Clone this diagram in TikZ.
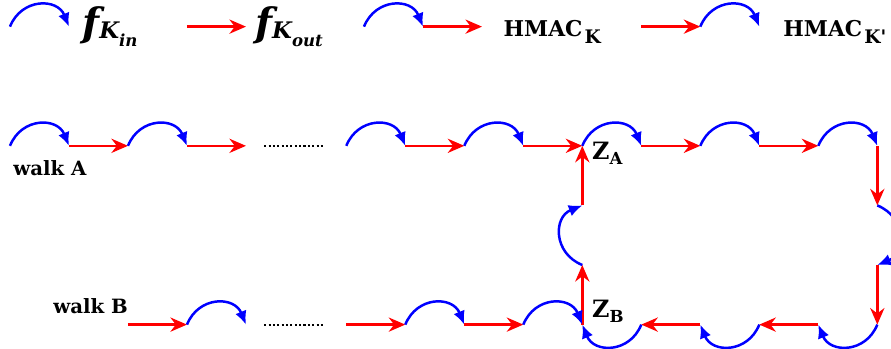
\documentclass[tikz,border=0pt]{standalone}
\usepackage{fontspec}
\setmainfont{DejaVu Serif}
\usetikzlibrary{arrows.meta}
\tikzset{
  kin/.style={blue, line width=1.2pt, -{Latex[length=2.3mm,width=2mm]}, bend left=68, looseness=1.35},
  kout/.style={red, line width=1.2pt, -{Stealth[length=2.8mm,width=2.4mm]}},
  kdots/.style={line width=1pt, dash pattern=on 1pt off 1.1pt},
  klabel/.style={font=\bfseries, anchor=base west, inner sep=0pt}
}
\newcommand{\fk}[1]{{\fontsize{19}{19}\selectfont\itshape f}\raisebox{-1pt}{\fontsize{11}{12}\selectfont\itshape K}\raisebox{-4.5pt}{\fontsize{8}{9}\selectfont\itshape #1}}
\newcommand{\hmac}[1]{{\fontsize{10.5}{12}\selectfont HMAC}\kern1pt\raisebox{-3.4pt}{\fontsize{9}{10}\selectfont #1}}
\newcommand{\zpt}[1]{{\fontsize{11.5}{12}\selectfont Z}\raisebox{-2.4pt}{\fontsize{8}{8}\selectfont #1}}

\begin{document}
\begin{tikzpicture}[x=1cm, y=1.01cm]
    \useasboundingbox (-0.169,-0.402) rectangle (14.932,5.447);

    % legend
    \coordinate (l0) at (0,5);  \coordinate (l1) at (1,5);
    \coordinate (l2) at (3,5);  \coordinate (l3) at (4,5);
    \coordinate (l4) at (6,5);  \coordinate (l5) at (7,5);  \coordinate (l6) at (8,5);
    \coordinate (l7) at (10.7,5);  \coordinate (l8) at (11.7,5);  \coordinate (l9) at (12.7,5);
    \draw[kin] (l0) to (l1);
    \node[klabel] (fin) at (1.22,4.83) {\fk{in}};
    \draw[kout] (l2) -- (l3);
    \node[klabel] (fout) at (4.15,4.83) {\fk{out}};
    \draw[kin] (l4) to (l5);
    \draw[kout] (l5) -- (l6);
    \node[klabel] (hk) at (8.36,4.83) {\hmac{K}};
    \draw[kout] (l7) -- (l8);
    \draw[kin] (l8) to (l9);
    \node[klabel] (hkp) at (13.1,4.83) {\hmac{K\textquotesingle}};

    % walk A
    \coordinate (a0) at (0,3);  \coordinate (a1) at (1,3);  \coordinate (a2) at (2,3);
    \coordinate (a3) at (3,3);  \coordinate (a4) at (4,3);
    \coordinate (a5) at (5.7,3);  \coordinate (a6) at (6.7,3);  \coordinate (a7) at (7.7,3);
    \coordinate (a8) at (8.7,3);  \coordinate (za) at (9.7,3);
    \node[klabel, font=\bfseries\fontsize{9.5}{10}\selectfont] (walka) at (0.05,2.51) {walk A};
    \node[klabel] (zal) at (9.86,2.77) {\zpt{A}};
    \draw[kin] (a0) to (a1);
    \draw[kout] (a1) -- (a2);
    \draw[kin] (a2) to (a3);
    \draw[kout] (a3) -- (a4);
    \draw[kdots] ([xshift=0.31cm]a4) -- ([xshift=-0.4cm]a5);
    \draw[kin] (a5) to (a6);
    \draw[kout] (a6) -- (a7);
    \draw[kin] (a7) to (a8);
    \draw[kout] (a8) -- (za);

    % cycle
    \coordinate (c1) at (10.7,3);  \coordinate (c2) at (11.7,3);  \coordinate (c3) at (12.7,3);
    \coordinate (c4) at (13.7,3);  \coordinate (c5) at (14.7,3);
    \coordinate (c6) at (14.7,2);  \coordinate (c7) at (14.7,1);  \coordinate (c8) at (14.7,0);
    \coordinate (c9) at (13.7,0);  \coordinate (c10) at (12.7,0);  \coordinate (c11) at (11.7,0);
    \coordinate (c12) at (10.7,0);  \coordinate (zb) at (9.7,0);
    \coordinate (c13) at (9.7,1);  \coordinate (c14) at (9.7,2);
    \draw[kin] (za) to (c1);
    \draw[kout] (c1) -- (c2);
    \draw[kin] (c2) to (c3);
    \draw[kout] (c3) -- (c4);
    \draw[kin] (c4) to (c5);
    \draw[kout] (c5) -- (c6);
    \draw[kin] (c6) to (c7);
    \draw[kout] (c7) -- (c8);
    \draw[kin] (c8) to (c9);
    \draw[kout] (c9) -- (c10);
    \draw[kin] (c10) to (c11);
    \draw[kout] (c11) -- (c12);
    \draw[kin] (c12) to (zb);
    \draw[kout] (zb) -- (c13);
    \draw[kin] (c13) to (c14);
    \draw[kout] (c14) -- (za);

    % walk B
    \coordinate (b0) at (2,0);  \coordinate (b1) at (3,0);  \coordinate (b2) at (4,0);
    \coordinate (b3) at (5.7,0);  \coordinate (b4) at (6.7,0);  \coordinate (b5) at (7.7,0);
    \coordinate (b6) at (8.7,0);
    \node[klabel, font=\bfseries\fontsize{9.5}{10}\selectfont] (walkb) at (0.73,0.18) {walk B};
    \node[klabel] (zbl) at (9.86,0.12) {\zpt{B}};
    \draw[kout] (b0) -- (b1);
    \draw[kin] (b1) to (b2);
    \draw[kdots] ([xshift=0.31cm]b2) -- ([xshift=-0.4cm]b3);
    \draw[kout] (b3) -- (b4);
    \draw[kin] (b4) to (b5);
    \draw[kout] (b5) -- (b6);
    \draw[kin] (b6) to (zb);
\end{tikzpicture}
\end{document}
